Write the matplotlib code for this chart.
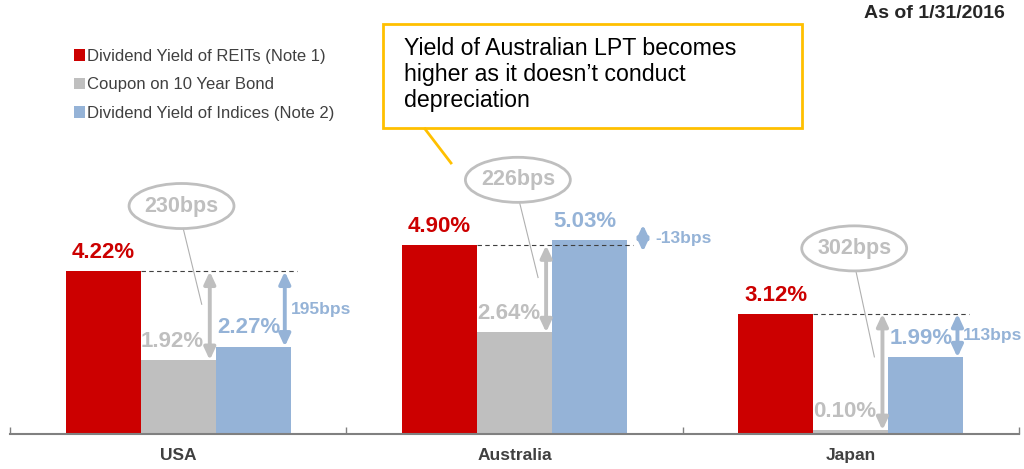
import matplotlib
matplotlib.use('Agg')
import matplotlib.pyplot as plt
from matplotlib.patches import Ellipse, Rectangle
from matplotlib.lines import Line2D
import numpy as np

plt.rcParams['font.family'] = ['Liberation Sans', 'DejaVu Sans']

# data
countries = ['USA', 'Australia', 'Japan']
reit_yield = [4.22, 4.90, 3.12]
bond_coupon = [1.92, 2.64, 0.10]
index_yield = [2.27, 5.03, 1.99]
spread_bond = ['230bps', '226bps', '302bps']
spread_index = ['195bps', '-13bps', '113bps']
series_names = ['Dividend Yield of REITs (Note 1)',
                'Coupon on 10 Year Bond',
                'Dividend Yield of Indices (Note 2)']
callout = 'Yield of Australian LPT becomes\nhigher as it doesn\u2019t conduct\ndepreciation'
as_of = 'As of 1/31/2016'

RED = '#CC0000'
GRAY = '#BFBFBF'
BLUE = '#95B3D7'
DARK = '#404040'

fig = plt.figure(figsize=(10.24, 4.69), dpi=100)
ax = fig.add_axes([10 / 1024, 35 / 469, 1009 / 1024, 434 / 469])

x = np.arange(len(countries))
w = 0.223
b1 = ax.bar(x - w, reit_yield, w, color=RED, label=series_names[0])
b2 = ax.bar(x, bond_coupon, w, color=GRAY, label=series_names[1])
b3 = ax.bar(x + w, index_yield, w, color=BLUE, label=series_names[2])

ax.set_xlim(-0.5, 2.5)
ax.set_ylim(0, 11.27)

arrow_style = '<|-|>,head_length=0.6,head_width=0.28'

for i in range(len(countries)):
    red = reit_yield[i]
    bond = bond_coupon[i]
    idx = index_yield[i]

    # value labels
    ax.annotate(f'{red:.2f}%', (x[i] - w, red), xytext=(0, 13.5), textcoords='offset points',
                ha='center', va='center', color=RED, fontsize=16, fontweight='bold')
    ax.annotate(f'{bond:.2f}%', (x[i], bond), xytext=(-4.3, 13.5), textcoords='offset points',
                ha='center', va='center', color=GRAY, fontsize=16, fontweight='bold')
    ax.annotate(f'{idx:.2f}%', (x[i] + w, idx), xytext=(-3, 13.5), textcoords='offset points',
                ha='center', va='center', color=BLUE, fontsize=16, fontweight='bold')

    # dashed reference line at REIT yield
    ax.plot([x[i] - w / 2, x[i] + 0.352], [red, red], color=DARK, lw=0.8,
            linestyle=(0, (4, 3)))

    # gray double arrow REIT vs bond
    ax.annotate('', xy=(x[i] + 0.094, bond), xytext=(x[i] + 0.094, red),
                arrowprops=dict(arrowstyle=arrow_style, color=GRAY, lw=2.8,
                                shrinkA=0, shrinkB=0, mutation_scale=12))

    # blue double arrow REIT vs index
    lo, hi = sorted([red, idx])
    if hi - lo < 0.7:
        pad = (0.7 - (hi - lo)) / 2
        lo, hi = lo - pad + 0.12, hi + pad + 0.12
    xa = x[i] + (0.382 if idx > red else 0.317)
    ax.annotate('', xy=(xa, lo), xytext=(xa, hi),
                arrowprops=dict(arrowstyle=arrow_style, color=BLUE, lw=2.8,
                                shrinkA=0, shrinkB=0, mutation_scale=12))
    ax.text(xa + (0.036 if idx > red else 0.017), (lo + hi) / 2, spread_index[i],
            ha='left', va='center', color=BLUE, fontsize=12.5, fontweight='bold')

    # ellipse bubble with spread vs bond
    ey = red + 1.7
    ax.add_patch(Ellipse((x[i] + 0.01, ey), 0.312, 1.17, fc='white', ec=GRAY, lw=2, zorder=3))
    ax.text(x[i] + 0.01, ey, spread_bond[i], ha='center', va='center', color=GRAY,
            fontsize=15.5, fontweight='bold', zorder=4)
    ax.plot([x[i] + 0.015, x[i] + 0.07], [ey - 0.585, red - 0.37 * (red - bond)],
            color='#B0B0B0', lw=0.8)

ax.set_yticks([])
ax.set_xticks(x)
ax.set_xticklabels(countries, fontweight='bold', fontsize=12.5, color=DARK)
ax.tick_params(axis='x', which='major', length=0, pad=10)
ax.set_xticks([-0.5, 0.5, 1.5, 2.5], minor=True)
ax.tick_params(axis='x', which='minor', direction='in', length=5, color='#808080', width=1)
for s in ['top', 'left', 'right']:
    ax.spines[s].set_visible(False)
ax.spines['bottom'].set_color('#808080')
ax.spines['bottom'].set_linewidth(1.5)

ax.legend(handles=[b1, b2, b3], loc='upper left', bbox_to_anchor=(74 / 1024, 1 - 49 / 469),
          bbox_transform=fig.transFigure, frameon=False, fontsize=12, handlelength=0.68,
          handleheight=0.68, handletextpad=0.12, labelspacing=0.8, borderpad=0,
          borderaxespad=0, labelcolor=DARK)

# callout box
fig.patches.append(Rectangle((383 / 1024, 1 - 128 / 469), 419 / 1024, 104 / 469,
                             transform=fig.transFigure, fc='white', ec='#FFC000', lw=2))
fig.lines.append(Line2D([425 / 1024, 451 / 1024], [1 - 129 / 469, 1 - 163 / 469],
                        transform=fig.transFigure, color='#FFC000', lw=2))
fig.text(404 / 1024, 1 - 37 / 469, callout, ha='left', va='top', fontsize=16.7,
         linespacing=1.16, color='black')

fig.text(1005 / 1024, 1 - 13 / 469, as_of, ha='right', va='center', fontsize=14,
         fontweight='bold', color='#262626')

fig.savefig('out.png', dpi=100)
